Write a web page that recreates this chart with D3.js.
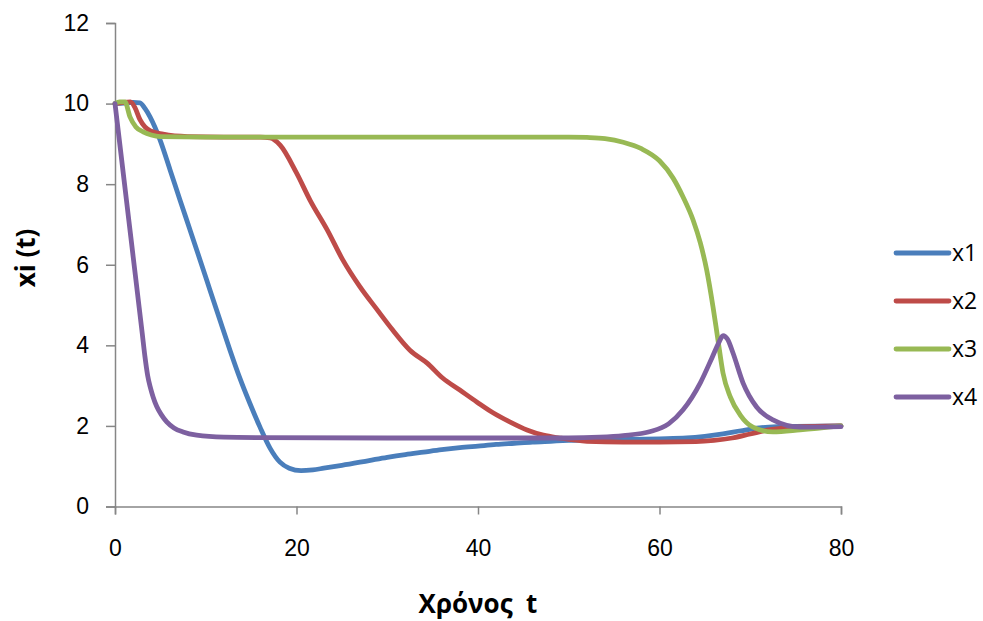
<!DOCTYPE html>
<html>
<head>
<meta charset="utf-8">
<script src="https://cdn.jsdelivr.net/npm/d3@7"></script>
<style>
  html, body { margin: 0; padding: 0; background: #fff; }
  svg { display: block; font-family: "Open Sans", "Noto Sans", sans-serif; }
</style>
</head>
<body>
<svg id="chart" width="983" height="621"></svg>
<script>
// Time samples and values for each state variable
const t1 = [0, 1, 2, 2.75, 3.3, 3.86, 4.96, 6.06, 7.16, 8.26, 9.37, 10.47, 11.57, 12.67, 13.77, 14.88, 15.98, 17.08, 18.18, 19.2, 20.5, 21.8, 23, 25, 28, 30, 32, 34, 36, 38, 40, 42, 44, 46, 48, 50, 55, 60, 63, 65, 67, 69, 71, 73, 75, 80];
const x1 = [10, 10.01, 10.03, 10.02, 9.88, 9.67, 9.1, 8.36, 7.61, 6.87, 6.12, 5.37, 4.62, 3.88, 3.18, 2.55, 1.97, 1.45, 1.1, 0.95, 0.89, 0.91, 0.95, 1.02, 1.14, 1.22, 1.29, 1.35, 1.41, 1.46, 1.5, 1.54, 1.57, 1.6, 1.62, 1.64, 1.66, 1.68, 1.7, 1.74, 1.8, 1.88, 1.95, 1.98, 1.99, 2.0];

const t2 = [0, 1, 1.7, 2.2, 2.75, 3.3, 3.9, 5.3, 8, 12, 16, 17.1, 18.2, 20.0, 21.5, 23.4, 25.1, 27.0, 28.9, 30.6, 32.5, 34.4, 36.1, 38.0, 39.9, 41.7, 43.5, 45.4, 47.2, 49, 52, 56, 60, 64, 66, 68, 70, 72, 75, 80];
const x2 = [10, 10.03, 10.04, 9.9, 9.6, 9.42, 9.32, 9.24, 9.18, 9.17, 9.17, 9.15, 8.97, 8.28, 7.6, 6.86, 6.12, 5.45, 4.88, 4.38, 3.88, 3.56, 3.19, 2.89, 2.59, 2.32, 2.1, 1.9, 1.77, 1.7, 1.62, 1.6, 1.6, 1.61, 1.64, 1.7, 1.8, 1.9, 1.97, 2.0];

const t3 = [0, 0.5, 1.1, 1.65, 2.3, 3.1, 4, 5, 10, 20, 30, 40, 50, 52, 54, 56, 58, 60, 61.5, 62.6, 63.7, 64.5, 65.2, 65.9, 66.4, 67.0, 67.8, 68.9, 70.3, 72.5, 75.5, 80];
const x3 = [10, 10.04, 10.04, 9.67, 9.42, 9.3, 9.22, 9.18, 9.17, 9.17, 9.17, 9.17, 9.17, 9.16, 9.13, 9.04, 8.88, 8.58, 8.15, 7.68, 7.11, 6.54, 5.87, 4.95, 4.2, 3.31, 2.72, 2.27, 1.97, 1.85, 1.9, 2.0];

const t4 = [0, 0.5, 1, 1.5, 2, 2.5, 3, 3.3, 3.6, 3.9, 4.2, 4.6, 5.1, 5.7, 6.5, 7.5, 9, 12, 16, 30, 50, 53.4, 56, 59, 61, 62.6, 64.5, 65.8, 66.5, 67.0, 67.5, 68.1, 69.2, 70.7, 72.5, 75.5, 80];
const x4 = [10, 9.05, 8.1, 7.15, 6.2, 5.25, 4.3, 3.72, 3.25, 2.95, 2.72, 2.48, 2.28, 2.1, 1.95, 1.85, 1.77, 1.72, 1.71, 1.7, 1.7, 1.72, 1.76, 1.86, 2.05, 2.4, 3.07, 3.7, 4.05, 4.24, 4.15, 3.81, 3.07, 2.47, 2.15, 1.97, 1.98];

const seriesNames = ["x1", "x2", "x3", "x4"];
const seriesColors = ["#4A7EBB", "#BE4B48", "#98B954", "#7D60A0"];
const xTicks = [0, 20, 40, 60, 80];
const yTicks = [0, 2, 4, 6, 8, 10, 12];
const xTitle = "Χρόνος  t";
const yTitle = "xi (t)";

const times = [t1, t2, t3, t4];
const values = [x1, x2, x3, x4];

const svg = d3.select("#chart");
const plot = { left: 115, right: 841, top: 23, bottom: 506.5 };

const x = d3.scaleLinear().domain([0, 80]).range([plot.left, plot.right]);
const y = d3.scaleLinear().domain([0, 12]).range([plot.bottom, plot.top]);

const axisColor = "#868686";
const labelSize = "23px";
const lineWidth = 4.8;

// Y axis
const yAxis = svg.append("g")
  .attr("transform", `translate(${plot.left},0)`)
  .call(d3.axisLeft(y).tickValues(yTicks).tickSize(9).tickPadding(17).tickFormat(d3.format("d")));
yAxis.select(".domain").attr("stroke", axisColor).attr("stroke-width", 1.5);
yAxis.selectAll(".tick line").attr("stroke", axisColor).attr("stroke-width", 1.5);
yAxis.selectAll(".tick text").attr("fill", "#000").style("font-size", labelSize);

// X axis
const xAxis = svg.append("g")
  .attr("transform", `translate(0,${plot.bottom})`)
  .call(d3.axisBottom(x).tickValues(xTicks).tickSize(8).tickPadding(25).tickFormat(d3.format("d")));
xAxis.select(".domain").attr("stroke", axisColor).attr("stroke-width", 1.5);
xAxis.selectAll(".tick line").attr("stroke", axisColor).attr("stroke-width", 1.5);
xAxis.selectAll(".tick text").attr("fill", "#000").style("font-size", labelSize);

// Series lines
const line = d3.line()
  .x(d => x(d[0]))
  .y(d => y(d[1]))
  .curve(d3.curveMonotoneX);

seriesNames.forEach((name, i) => {
  const pts = times[i].map((t, j) => [t, values[i][j]]);
  svg.append("path")
    .datum(pts)
    .attr("fill", "none")
    .attr("stroke", seriesColors[i])
    .attr("stroke-width", lineWidth)
    .attr("stroke-linejoin", "round")
    .attr("stroke-linecap", "round")
    .attr("d", line);
});

// Legend
const legend = svg.append("g");
seriesNames.forEach((name, i) => {
  const ly = 253 + i * 48;
  legend.append("line")
    .attr("x1", 896).attr("x2", 949)
    .attr("y1", ly).attr("y2", ly)
    .attr("stroke", seriesColors[i])
    .attr("stroke-width", lineWidth)
    .attr("stroke-linecap", "round");
  legend.append("text")
    .attr("x", 952).attr("y", ly)
    .attr("dy", "0.35em")
    .style("font-size", labelSize)
    .text(name);
});

// Axis titles
svg.append("text")
  .attr("x", 478).attr("y", 613)
  .attr("text-anchor", "middle")
  .style("font-size", "26px")
  .style("font-weight", "bold")
  .style("white-space", "pre")
  .text(xTitle);

svg.append("text")
  .attr("transform", "translate(35,258) rotate(-90)")
  .attr("text-anchor", "middle")
  .style("font-size", "26px")
  .style("font-weight", "bold")
  .text(yTitle);
</script>
</body>
</html>
